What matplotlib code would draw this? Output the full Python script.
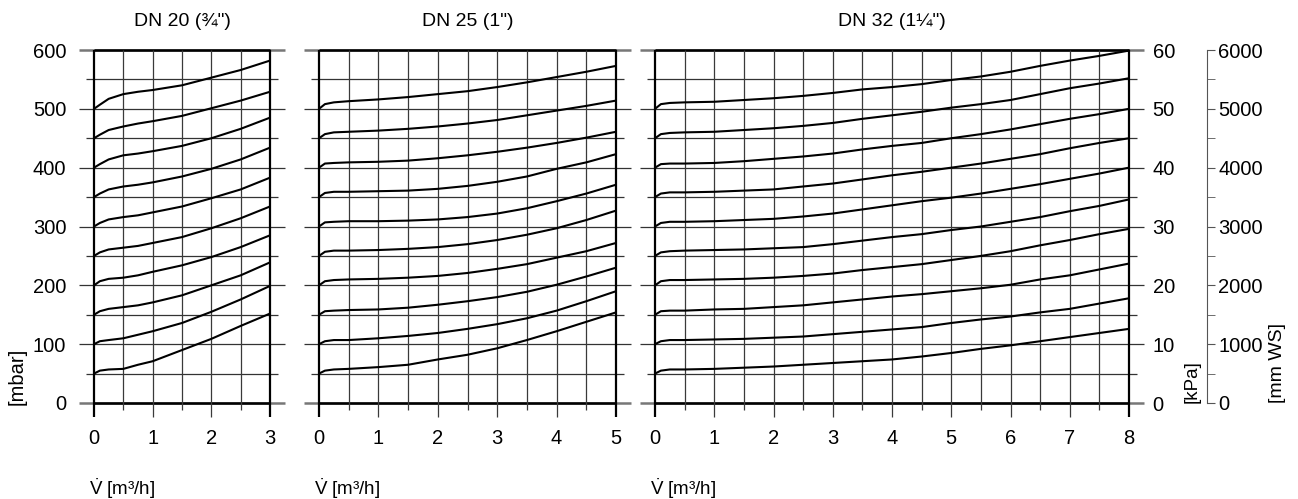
import numpy as np
import matplotlib
matplotlib.use("Agg")
from matplotlib import pyplot as plt

plt.rcParams['font.family'] = ['Liberation Sans', 'DejaVu Sans']
plt.rcParams['mathtext.fontset'] = 'custom'
plt.rcParams['mathtext.rm'] = 'Liberation Sans'

# 曲线数据 (mbar)
titles = ['DN 20 (¾")', 'DN 25 (1")', 'DN 32 (1¼")']
x_max = [3, 5, 8]

x_dn20 = [0, 0.1, 0.25, 0.5, 0.75, 1, 1.5, 2, 2.5, 3]
dn20 = [
    [50, 55, 57, 58, 65, 71, 90, 109, 131, 152],
    [100, 105, 107, 110, 116, 122, 136, 155, 176, 199],
    [150, 156, 160, 163, 166, 171, 183, 200, 217, 239],
    [200, 207, 211, 213, 217, 223, 234, 248, 265, 285],
    [250, 256, 261, 264, 267, 272, 282, 297, 314, 334],
    [300, 306, 312, 316, 319, 324, 334, 348, 363, 383],
    [350, 356, 363, 368, 371, 375, 385, 398, 414, 434],
    [400, 406, 414, 421, 424, 428, 437, 450, 466, 485],
    [450, 456, 464, 470, 475, 479, 488, 501, 514, 529],
    [500, 507, 517, 525, 529, 532, 540, 553, 566, 582],
]

x_dn25 = [0, 0.1, 0.25, 0.5, 1, 1.5, 2, 2.5, 3, 3.5, 4, 4.5, 5]
dn25 = [
    [50, 55, 57, 58, 61, 65, 74, 82, 93, 107, 122, 138, 154],
    [100, 105, 107, 107, 110, 114, 119, 126, 134, 144, 157, 173, 190],
    [150, 156, 157, 158, 159, 162, 167, 173, 180, 189, 201, 215, 230],
    [200, 207, 209, 210, 211, 213, 216, 221, 228, 236, 247, 258, 272],
    [250, 257, 259, 259, 260, 262, 265, 270, 277, 286, 297, 311, 327],
    [300, 307, 308, 309, 309, 310, 312, 316, 322, 331, 343, 356, 371],
    [350, 357, 359, 359, 360, 361, 364, 369, 376, 385, 398, 409, 423],
    [400, 407, 408, 409, 410, 412, 416, 421, 427, 434, 442, 451, 461],
    [450, 457, 460, 461, 463, 466, 470, 475, 481, 489, 497, 505, 514],
    [500, 508, 511, 513, 516, 520, 525, 530, 537, 545, 554, 563, 573],
]

x_dn32 = [0, 0.1, 0.25, 0.5, 1, 1.5, 2, 2.5, 3, 3.5, 4, 4.5, 5, 5.5, 6, 6.5, 7, 7.5, 8]
dn32 = [
    [50, 55, 57, 57, 58, 60, 62, 65, 68, 71, 74, 79, 85, 92, 98, 105, 112, 119, 126],
    [100, 105, 107, 107, 108, 109, 111, 113, 117, 121, 125, 129, 136, 142, 147, 154, 160, 169, 178],
    [150, 156, 157, 157, 159, 160, 163, 166, 171, 176, 181, 185, 190, 195, 201, 210, 217, 227, 237],
    [200, 207, 209, 209, 210, 211, 213, 216, 220, 226, 231, 236, 243, 250, 258, 268, 277, 287, 296],
    [250, 256, 258, 259, 260, 261, 263, 265, 270, 276, 282, 287, 294, 300, 308, 316, 326, 335, 346],
    [300, 306, 308, 308, 309, 311, 313, 317, 322, 329, 336, 343, 349, 356, 364, 372, 381, 390, 400],
    [350, 356, 358, 358, 359, 361, 363, 368, 373, 380, 387, 393, 400, 407, 415, 423, 433, 442, 450],
    [400, 406, 407, 407, 408, 411, 415, 419, 424, 431, 437, 442, 450, 457, 465, 474, 483, 491, 500],
    [450, 457, 459, 460, 461, 464, 467, 471, 476, 483, 489, 495, 502, 508, 515, 525, 535, 543, 552],
    [500, 508, 510, 511, 512, 515, 518, 522, 527, 533, 537, 542, 549, 555, 563, 573, 582, 590, 599],
]

mbar_ticks = list(range(0, 601, 100))
kpa_ticks = list(range(0, 61, 10))
mmws_ticks = list(range(0, 6001, 1000))

W, H = 1298, 499
fig = plt.figure(figsize=(W / 100, H / 100), dpi=100)

# 像素位置 (左, 右)
panel_px = [(94, 270), (319, 616), (655, 1129)]
y_top, y_bot = 50, 403
bottom = 1 - y_bot / H
height = (y_bot - y_top) / H

FS = 14.5

xs_all = [x_dn20, x_dn25, x_dn32]
ys_all = [dn20, dn25, dn32]
axes = []
for i, (l, r) in enumerate(panel_px):
    ax = fig.add_axes([l / W, bottom, (r - l) / W, height])
    xm = x_max[i]
    ax.set_xlim(0, xm)
    ax.set_ylim(0, 600)
    for s in ax.spines.values():
        s.set_visible(False)

    # 水平网格线
    for y in range(0, 601, 50):
        ext = 0.25 if y % 100 == 0 else 0.13
        lw = 1.8 if y in (0, 600) else 0.9
        col = '#777777' if y in (0, 600) else '#333333'
        ax.hlines(y, -ext, xm + ext, color=col, lw=lw, clip_on=False, zorder=1)
        if y in (0, 600):
            ax.hlines(y, 0, xm, color='black', lw=1.8, clip_on=False, zorder=2)
    # 垂直网格线
    for x in np.arange(0, xm + 0.01, 0.5):
        y0 = -23 if x % 1 == 0 else -12
        edge = x == 0 or x == xm
        ax.vlines(x, y0, 600, color='black' if edge else '#3a3a3a',
                  lw=1.6 if edge else 0.9, clip_on=False, zorder=2)

    for ys in ys_all[i]:
        ax.plot(xs_all[i], ys, color='black', lw=1.5, clip_on=False, zorder=3,
                solid_capstyle='round', solid_joinstyle='round')

    ax.set_xticks(range(0, xm + 1))
    ax.tick_params(axis='x', length=0, pad=19, labelsize=FS)
    if i == 0:
        ax.set_yticks(mbar_ticks)
        ax.tick_params(axis='y', length=0, pad=20, labelsize=FS)
    else:
        ax.set_yticks([])

    fig.text((l + r) / 2 / W, 1 - 22 / H, titles[i], ha='center', va='center', fontsize=14)
    fig.text((l - 5) / W, 1 - 489 / H, r'$\dot{\mathrm{V}}$ [m³/h]', ha='left', va='center', fontsize=13.5)
    axes.append(ax)

# kPa 轴
ax_k = axes[2].twinx()
ax_k.set_ylim(0, 60)
ax_k.set_yticks(kpa_ticks)
ax_k.tick_params(axis='y', length=0, pad=17, labelsize=FS)
for s in ax_k.spines.values():
    s.set_visible(False)

# mm WS 轴
ax_m = fig.add_axes([1207 / W, bottom, 0.0001, height])
ax_m.set_ylim(0, 6000)
ax_m.set_xticks([])
ax_m.set_yticks(mmws_ticks)
ax_m.set_yticks(range(500, 6000, 1000), minor=True)
for name, s in ax_m.spines.items():
    s.set_visible(name == 'left')
ax_m.spines['left'].set_color('#555555')
ax_m.yaxis.tick_right()
ax_m.tick_params(axis='y', which='both', direction='out', length=6, color='#555555',
                 pad=2, labelsize=FS)
ax_m.set_facecolor('none')

fig.text(17 / W, 1 - 405 / H, '[mbar]', rotation=90, ha='center', va='bottom', fontsize=14.5)
fig.text(1192 / W, 1 - 403 / H, '[kPa]', rotation=90, ha='center', va='bottom', fontsize=13.5)
fig.text(1278 / W, 1 - 403 / H, '[mm WS]', rotation=90, ha='center', va='bottom', fontsize=14)

fig.savefig('out.png', dpi=100)
